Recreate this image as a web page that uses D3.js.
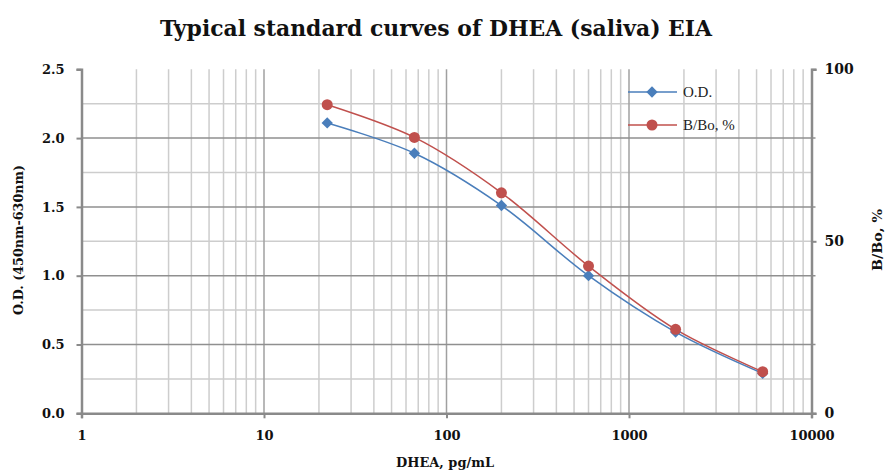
<!DOCTYPE html>
<html><head><meta charset="utf-8">
<script src="https://cdn.jsdelivr.net/npm/d3@7"></script>
<style>body{margin:0;background:#fff}svg{display:block}</style>
</head><body>
<script>
const title = "Typical standard curves of DHEA (saliva) EIA";
const concentrations = [22.2, 66.7, 200, 600, 1800, 5400];
const odValues = [2.11, 1.89, 1.51, 1.00, 0.59, 0.29];
const bboValues = [89.7, 80.2, 64.1, 42.8, 24.4, 12.1];
const xTicks = [1, 10, 100, 1000, 10000];
const yLeftTicks = [0, 0.5, 1.0, 1.5, 2.0, 2.5];
const yRightTicks = [0, 50, 100];
const seriesNames = ["O.D.", "B/Bo, %"];

const W = 887, H = 471;
const svg = d3.select("body").append("svg").attr("width", W).attr("height", H);
const serif = "'DejaVu Serif', 'Liberation Serif', serif";

const x = d3.scaleLog().domain([1, 10000]).range([81.5, 811.5]);
const yL = d3.scaleLinear().domain([0, 2.5]).range([413.3, 69.3]);
const yR = d3.scaleLinear().domain([0, 100]).range([413.3, 69.3]);

// minor vertical gridlines
const minorX = [];
for (let d = 1; d < 10000; d *= 10) for (let k = 2; k <= 9; k++) minorX.push(d * k);
svg.append("g").selectAll("line").data(minorX).join("line")
  .attr("x1", d => x(d)).attr("x2", d => x(d)).attr("y1", yL(2.5)).attr("y2", yL(0))
  .attr("stroke", "#cdcdcd").attr("stroke-width", 1.5);
// minor horizontal gridlines
const minorY = [0.25, 0.75, 1.25, 1.75, 2.25];
svg.append("g").selectAll("line").data(minorY).join("line")
  .attr("x1", x(1)).attr("x2", x(10000)).attr("y1", d => yL(d)).attr("y2", d => yL(d))
  .attr("stroke", "#cdcdcd").attr("stroke-width", 1.5);
// major vertical gridlines
svg.append("g").selectAll("line").data([10, 100, 1000]).join("line")
  .attr("x1", d => x(d)).attr("x2", d => x(d)).attr("y1", yL(2.5)).attr("y2", yL(0))
  .attr("stroke", "#a0a0a0").attr("stroke-width", 1.5);
// major horizontal gridlines
svg.append("g").selectAll("line").data([0.5, 1.0, 1.5, 2.0]).join("line")
  .attr("x1", x(1)).attr("x2", x(10000) + 4).attr("y1", d => yL(d)).attr("y2", d => yL(d))
  .attr("stroke", "#8f8f8f").attr("stroke-width", 1.5);

// axes
const axisColor = "#8a8a8a";
const gx = svg.append("g").attr("transform", `translate(0,${yL(0)})`)
  .call(d3.axisBottom(x).tickValues(xTicks).tickFormat(d3.format("d")).tickSize(5).tickPadding(10));
const gl = svg.append("g").attr("transform", `translate(${x(1)},0)`)
  .call(d3.axisLeft(yL).tickValues(yLeftTicks).tickFormat(d3.format(".1f")).tickSize(5).tickPadding(12));
const gr = svg.append("g").attr("transform", `translate(${x(10000)},0)`)
  .call(d3.axisRight(yR).tickValues(yRightTicks).tickFormat(d3.format("d")).tickSize(5).tickPadding(8));
[gx, gl, gr].forEach(g => {
  g.select(".domain").attr("stroke", axisColor).attr("stroke-width", 2.5);
  g.selectAll(".tick line").attr("stroke", axisColor).attr("stroke-width", 2);
  g.selectAll("text").attr("font-family", serif).attr("font-weight", "bold")
    .attr("font-size", 13).attr("fill", "#111");
});
gr.selectAll("text").attr("font-size", 14);
gx.selectAll("text").attr("dy", "0.9em");

// series
const curve = d3.curveCatmullRom.alpha(0.5);
const odColor = "#4a7ebb", bboColor = "#c0504d";
const odData = concentrations.map((c, i) => [c, odValues[i]]);
const bboData = concentrations.map((c, i) => [c, bboValues[i]]);
svg.append("path").datum(odData)
  .attr("d", d3.line().x(d => x(d[0])).y(d => yL(d[1])).curve(curve))
  .attr("fill", "none").attr("stroke", odColor).attr("stroke-width", 1.5);
svg.append("path").datum(bboData)
  .attr("d", d3.line().x(d => x(d[0])).y(d => yR(d[1])).curve(curve))
  .attr("fill", "none").attr("stroke", bboColor).attr("stroke-width", 1.5);
const diamond = d3.symbol().type(d3.symbolSquare).size(64);
svg.append("g").selectAll("path").data(odData).join("path")
  .attr("d", diamond).attr("transform", d => `translate(${x(d[0])},${yL(d[1])}) rotate(45)`)
  .attr("fill", odColor);
svg.append("g").selectAll("circle").data(bboData).join("circle")
  .attr("cx", d => x(d[0])).attr("cy", d => yR(d[1])).attr("r", 5.5)
  .attr("fill", bboColor);

// legend
const leg = svg.append("g");
const legY = [92, 125];
[0, 1].forEach(i => {
  const c = i === 0 ? odColor : bboColor;
  leg.append("line").attr("x1", 628).attr("x2", 677).attr("y1", legY[i]).attr("y2", legY[i])
    .attr("stroke", c).attr("stroke-width", 1.5);
  if (i === 0) leg.append("path").attr("d", diamond).attr("transform", `translate(652,${legY[i]}) rotate(45)`).attr("fill", c);
  else leg.append("circle").attr("cx", 652).attr("cy", legY[i]).attr("r", 5.5).attr("fill", c);
  leg.append("text").attr("x", 683).attr("y", legY[i]).attr("dy", "0.35em")
    .attr("font-family", "'Liberation Serif', serif").attr("font-size", 15).attr("fill", "#222")
    .text(seriesNames[i]);
});

// titles
svg.append("text").attr("x", 436).attr("y", 36).attr("text-anchor", "middle")
  .attr("font-family", serif).attr("font-weight", "bold").attr("font-size", 23)
  .attr("textLength", 552).attr("lengthAdjust", "spacingAndGlyphs").attr("fill", "#111")
  .text(title);
svg.append("text").attr("x", 445).attr("y", 467).attr("text-anchor", "middle")
  .attr("font-family", serif).attr("font-weight", "bold").attr("font-size", 13)
  .attr("textLength", 98).attr("lengthAdjust", "spacingAndGlyphs").attr("fill", "#111")
  .text("DHEA, pg/mL");
svg.append("text").attr("transform", "translate(23,240) rotate(-90)").attr("text-anchor", "middle")
  .attr("font-family", serif).attr("font-weight", "bold").attr("font-size", 13)
  .attr("textLength", 150).attr("lengthAdjust", "spacingAndGlyphs").attr("fill", "#111")
  .text("O.D. (450nm-630nm)");
svg.append("text").attr("transform", "translate(882,240) rotate(-90)").attr("text-anchor", "middle")
  .attr("font-family", serif).attr("font-weight", "bold").attr("font-size", 13)
  .attr("textLength", 62).attr("lengthAdjust", "spacingAndGlyphs").attr("fill", "#111")
  .text("B/Bo, %");
</script>
</body></html>
